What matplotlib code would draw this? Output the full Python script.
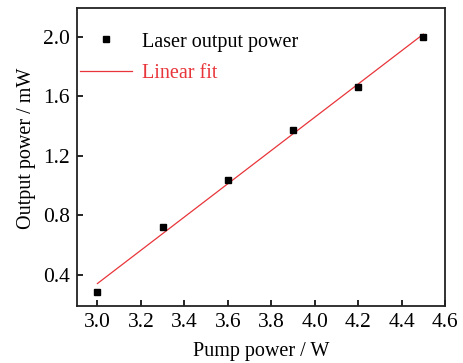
import numpy as np
import matplotlib
matplotlib.use('Agg')
import matplotlib.pyplot as plt
from matplotlib.lines import Line2D

pump_power = [3.0, 3.3, 3.6, 3.9, 4.2, 4.5]
output_power = [0.283, 0.721, 1.040, 1.373, 1.663, 2.000]
x_ticks = [3.0, 3.2, 3.4, 3.6, 3.8, 4.0, 4.2, 4.4, 4.6]
y_ticks = [0.4, 0.8, 1.2, 1.6, 2.0]

plt.rcParams['font.family'] = ['Liberation Serif', 'DejaVu Serif']
plt.rcParams['font.size'] = 14.5

fig = plt.figure(figsize=(4.64, 3.63), dpi=100)
ax = fig.add_axes([77 / 464, 1 - 306 / 363, (445 - 77) / 464, (306 - 8) / 363])

slope, intercept = np.polyfit(pump_power, output_power, 1)
fit_x = np.array([pump_power[0], pump_power[-1]])
ax.plot(fit_x, slope * fit_x + intercept, color='#e8353a', lw=0.9)
ax.plot(pump_power, output_power, 's', color='black', ms=4.8, zorder=3)

ax.set_xlim(2.906, 4.6)
ax.set_ylim(0.19, 2.195)
ax.set_xticks(x_ticks)
ax.set_yticks(y_ticks)
ax.set_xticklabels(['%.1f' % t for t in x_ticks])
ax.set_yticklabels(['%.1f' % t for t in y_ticks])
ax.tick_params(direction='in', length=4, width=1.2, pad=5, labelsize=15.5)
for s in ax.spines.values():
    s.set_linewidth(1.3)
    s.set_color('#222222')

ax.set_xlabel('Pump power / W', labelpad=7)
ax.set_ylabel('Output power / mW')
ax.yaxis.set_label_coords(-0.112, 0.53)

handles = [
    Line2D([], [], marker='s', ls='none', color='black', ms=4),
    Line2D([], [], color='#e8353a', lw=0.9),
]
leg = ax.legend(handles, ['Laser output power', 'Linear fit'], loc='upper left',
                frameon=False, handlelength=2.6, handletextpad=0.5,
                borderpad=0, borderaxespad=0, bbox_to_anchor=(0.008, 0.918),
                labelspacing=0.62)
leg.get_texts()[1].set_color('#e8353a')

fig.savefig('out.png', dpi=100)
